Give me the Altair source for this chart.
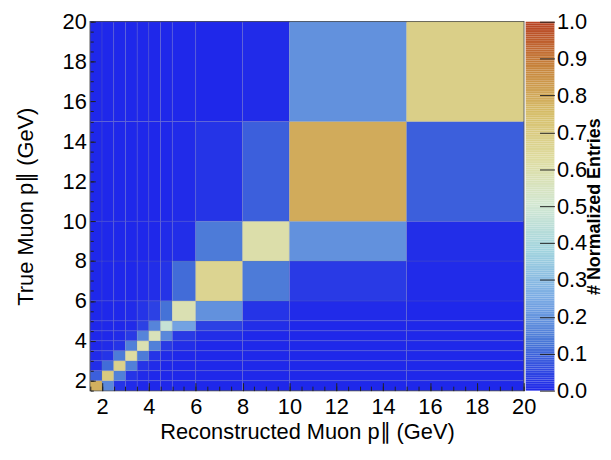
import altair as alt
import numpy as np
import pandas as pd

# Bin edges (GeV), shared by reconstructed (x) and true (y) momentum
edges = [1.5, 2, 2.5, 3, 3.5, 4, 4.5, 5, 6, 8, 10, 15, 20]

# Normalized entries, one list per true-momentum bin (bottom to top),
# columns are the reconstructed-momentum bins (left to right)
row_00 = [0.78, 0.17, 0.02, 0.005, 0, 0, 0, 0, 0, 0, 0, 0]
row_01 = [0.09, 0.70, 0.15, 0.02, 0.005, 0, 0, 0, 0, 0, 0, 0]
row_02 = [0.01, 0.11, 0.67, 0.15, 0.02, 0.005, 0, 0, 0, 0, 0, 0]
row_03 = [0.005, 0.02, 0.14, 0.62, 0.14, 0.02, 0.005, 0, 0, 0, 0, 0]
row_04 = [0, 0.005, 0.02, 0.15, 0.58, 0.15, 0.03, 0.01, 0, 0, 0, 0]
row_05 = [0, 0, 0.005, 0.03, 0.16, 0.56, 0.17, 0.03, 0.01, 0, 0, 0]
row_06 = [0, 0, 0, 0.005, 0.04, 0.16, 0.47, 0.23, 0.04, 0.01, 0, 0]
row_07 = [0, 0, 0, 0.005, 0.02, 0.04, 0.12, 0.58, 0.19, 0.02, 0.005, 0]
row_08 = [0, 0, 0, 0, 0.005, 0.01, 0.02, 0.11, 0.66, 0.14, 0.03, 0.005]
row_09 = [0, 0, 0, 0, 0, 0, 0.005, 0.01, 0.14, 0.60, 0.19, 0.01]
row_10 = [0, 0, 0, 0, 0, 0, 0, 0.005, 0.02, 0.09, 0.79, 0.09]
row_11 = [0, 0, 0, 0, 0, 0, 0, 0, 0, 0.005, 0.19, 0.68]
rows = [row_00, row_01, row_02, row_03, row_04, row_05,
        row_06, row_07, row_08, row_09, row_10, row_11]

# Axis tick values
x_major = [2, 4, 6, 8, 10, 12, 14, 16, 18, 20]
y_major = [2, 4, 6, 8, 10, 12, 14, 16, 18, 20]
minor = [float(v) for v in np.arange(1.5, 20.01, 0.5)]
cbar_ticks = [0.0, 0.1, 0.2, 0.3, 0.4, 0.5, 0.6, 0.7, 0.8, 0.9, 1.0]

# Palette (light temperature)
stops = [0, 0.125, 0.25, 0.375, 0.5, 0.625, 0.75, 0.875, 1.0]
colors = ["#1f28ea", "#4775d6", "#7babe4", "#a0d3de", "#d2e7d2",
          "#dedca0", "#d6be69", "#c7843c", "#b74122"]

records = []
for i, row in enumerate(rows):
    for j, v in enumerate(row):
        records.append({"x": edges[j], "x2": edges[j + 1],
                        "y": edges[i], "y2": edges[i + 1], "v": v})
df = pd.DataFrame(records)

FONT = "Liberation Sans"
FS = 22
W, H = 437, 372
CBW = 29
color_scale = alt.Scale(domain=stops, range=colors, interpolate="rgb", clamp=True)
xs = alt.Scale(domain=[1.5, 20], nice=False, zero=False)
ys = alt.Scale(domain=[1.5, 20], nice=False, zero=False)

heat = alt.Chart(df).mark_rect(stroke="#8a8a8a", strokeWidth=0.6, strokeOpacity=0.25).encode(
    x=alt.X("x:Q", scale=xs, axis=alt.Axis(
        orient="bottom", values=x_major, tickSize=8, offset=-8, domain=False, grid=False,
        tickColor="#222", labelPadding=6, labelFontSize=FS, labelFont=FONT, labelColor="black",
        labelFlush=False, labelOverlap=False,
        title="Reconstructed Muon p\u2225 (GeV)", titleFont=FONT, titleFontSize=FS,
        titleFontWeight="normal", titleColor="black", titlePadding=4, zindex=1)),
    x2="x2:Q",
    y=alt.Y("y:Q", scale=ys, axis=alt.Axis(
        orient="left", values=y_major, tickSize=5, offset=-5, domain=False, grid=False,
        tickColor="#222", labelPadding=4, labelFontSize=FS, labelFont=FONT, labelColor="black",
        labelFlush=False, labelOverlap=False,
        title="True Muon p\u2225 (GeV)", titleFont=FONT, titleFontSize=FS,
        titleFontWeight="normal", titleColor="black", titlePadding=25, zindex=1)),
    y2="y2:Q",
    color=alt.Color("v:Q", scale=color_scale, legend=None),
)

minor_layer = alt.Chart(df).mark_rect(opacity=0).encode(
    x=alt.X("x:Q", scale=xs, axis=alt.Axis(
        orient="bottom", values=minor, tickSize=4.5, offset=-4.5, domain=False, grid=False,
        labels=False, title=None, tickColor="#222", zindex=1)),
    x2="x2:Q",
    y=alt.Y("y:Q", scale=ys, axis=alt.Axis(
        orient="left", values=minor, tickSize=3, offset=-3, domain=False, grid=False,
        labels=False, title=None, tickColor="#222", zindex=1)),
    y2="y2:Q",
)

main = alt.layer(heat, minor_layer).resolve_axis(x="independent", y="independent").properties(
    width=W, height=H, view=alt.ViewBackground(stroke="#444444", strokeWidth=1.5))

cb_edges = np.linspace(0, 1, 201)
cb_df = pd.DataFrame({"v": cb_edges[:-1], "v2": cb_edges[1:]})
colorbar = alt.Chart(cb_df).mark_rect().encode(
    y=alt.Y("v:Q", scale=alt.Scale(domain=[0, 1], nice=False, zero=False), axis=alt.Axis(
        orient="right", values=cbar_ticks, format=".1f", tickSize=15, offset=-15, domain=False,
        grid=False, tickColor="#222", labelPadding=2, labelFontSize=FS, labelFont=FONT,
        labelColor="black", labelFlush=False, labelOverlap=False,
        title="# Normalized Entries", titleFont=FONT, titleFontSize=18,
        titleFontWeight="bold", titleColor="black", titleAngle=270, titleAlign="center",
        titleBaseline="middle", titleX=55, titleY=H / 2, zindex=1)),
    y2="v2:Q",
    color=alt.Color("v:Q", scale=color_scale, legend=None),
).properties(width=CBW, height=H, view=alt.ViewBackground(strokeWidth=0))

chart = alt.hconcat(main, colorbar, spacing=2, bounds="flush").properties(
    padding={"left": 5, "right": 0, "top": 0, "bottom": 0}
).configure_view(strokeWidth=0)

chart.save("out.html", embed_options={"renderer": "svg", "actions": False})
